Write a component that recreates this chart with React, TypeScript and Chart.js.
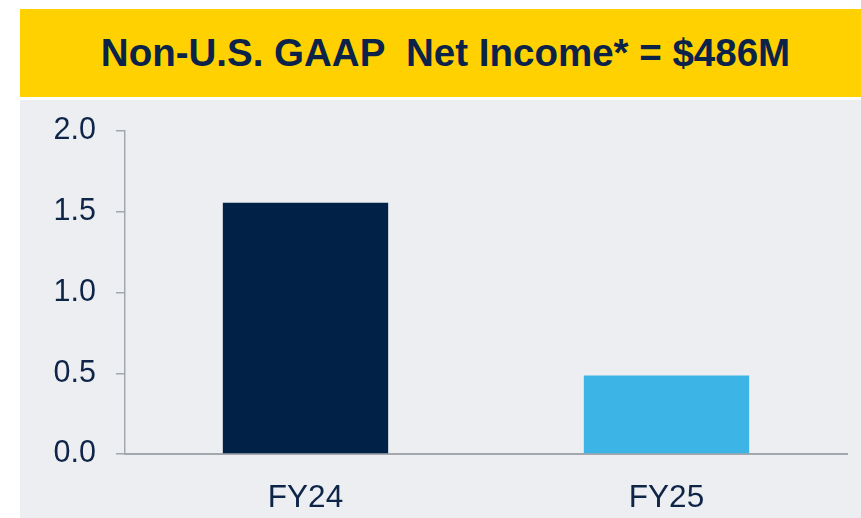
import React, { useEffect, useRef } from "react";
import { Chart, registerables } from "chart.js";

Chart.register(...registerables);

const categories = ["FY24", "FY25"];
const netIncome = [1.555, 0.486];
const barColors = ["#012147", "#3cb4e5"];
const yTicks = [0, 0.5, 1.0, 1.5, 2.0];
const title = "Non-U.S. GAAP  Net Income* = $486M";

const FONT = "'Liberation Sans', Arial, Helvetica, sans-serif";
const TEXT = "#0e2548";

export default function App() {
  const ref = useRef<HTMLCanvasElement | null>(null);

  useEffect(() => {
    if (!ref.current) return;
    const chart = new Chart(ref.current, {
      type: "bar",
      data: {
        labels: categories,
        datasets: [
          {
            data: netIncome,
            backgroundColor: barColors,
            borderWidth: 0,
            categoryPercentage: 1,
            barPercentage: 0.458,
          },
        ],
      },
      options: {
        animation: false,
        responsive: false,
        maintainAspectRatio: false,
        layout: { padding: { left: 0, right: 14, top: 131, bottom: 0 } },
        plugins: { legend: { display: false }, tooltip: { enabled: false }, title: { display: false } },
        scales: {
          x: {
            offset: true,
            grid: { display: false },
            border: { display: true, color: "#a3a7ae", width: 2 },
            ticks: {
              color: TEXT,
              font: { family: FONT, size: 31.5 },
              padding: 17,
            },
            afterFit: (s: any) => {
              s.height = 64;
            },
          },
          y: {
            min: 0,
            max: 2,
            afterBuildTicks: (s: any) => {
              s.ticks = yTicks.map((v) => ({ value: v }));
            },
            grid: {
              display: true,
              drawOnChartArea: false,
              drawTicks: true,
              tickLength: 9,
              color: "#a3a7ae",
              lineWidth: 1.5,
            },
            border: { display: true, color: "#a3a7ae", width: 1.5 },
            ticks: {
              color: TEXT,
              font: { family: FONT, size: 30.5 },
              padding: 20,
              callback: (v: any) => Number(v).toFixed(1),
            },
            afterFit: (s: any) => {
              s.width = 125;
            },
          },
        },
      },
    });
    return () => chart.destroy();
  }, []);

  return (
    <div style={{ position: "fixed", left: 0, top: 0, width: 861, height: 518, background: "#ffffff", overflow: "hidden" }}>
      <div
        style={{
          position: "absolute",
          left: 20,
          top: 9,
          width: 841,
          height: 88,
          background: "#ffd100",
          display: "flex",
          alignItems: "center",
          justifyContent: "center",
        }}
      >
        <span
          style={{
            fontFamily: FONT,
            fontWeight: "bold",
            fontSize: 38.5,
            color: "#0b2349",
            whiteSpace: "pre",
            marginLeft: 10,
          }}
        >
          {title}
        </span>
      </div>
      <div style={{ position: "absolute", left: 20, top: 100, width: 841, height: 418, background: "#eceef1" }} />
      <canvas ref={ref} width={861} height={518} style={{ position: "absolute", left: 0, top: 0, width: 861, height: 518 }} />
    </div>
  );
}
